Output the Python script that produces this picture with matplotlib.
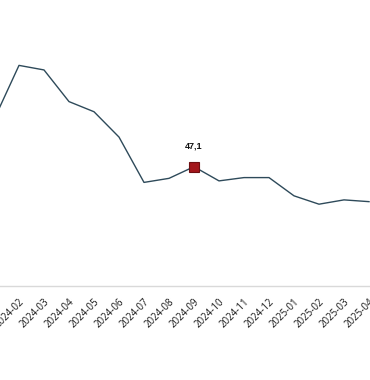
import matplotlib
matplotlib.use("Agg")
import matplotlib.pyplot as plt
import matplotlib.transforms as mtransforms

months = ["2024-01", "2024-02", "2024-03", "2024-04", "2024-05", "2024-06",
          "2024-07", "2024-08", "2024-09", "2024-10", "2024-11", "2024-12",
          "2025-01", "2025-02", "2025-03", "2025-04"]
values = [65.7, 87.1, 85.3, 72.8, 68.8, 58.8, 40.9, 42.5, 47.1, 41.5,
          42.8, 42.8, 35.6, 32.3, 34.0, 33.3]
highlight_month = "2024-09"
highlight_label = "47,1"

plt.rcParams['font.family'] = ['Open Sans', 'DejaVu Sans']

W, H = 370, 380
fig = plt.figure(figsize=(W / 100, H / 100), dpi=100)
bottom_px = 286
ax = fig.add_axes([0, (H - bottom_px) / H, 1, bottom_px / H])

x = list(range(len(months)))
ax.plot(x, values, color="#2E4A5A", linewidth=1.0, zorder=2)
hi = months.index(highlight_month)
ax.plot([hi], [values[hi]], marker="s", markersize=7.4, color="#A3161B",
        markeredgecolor="#6E0F12", markeredgewidth=0.8, zorder=3)
ax.annotate(highlight_label, (hi, values[hi]), xytext=(0, 12),
            textcoords="offset points", ha="center", va="bottom",
            fontsize=6.5, fontweight="bold", color="#111111",
            family=["Liberation Sans", "DejaVu Sans"])

ax.set_xticks(x)
ax.set_xticklabels(months, rotation=45, ha="right", va="center",
                   rotation_mode="anchor", fontsize=7, color="#1a1a1a")
ax.tick_params(axis="x", length=0, pad=9)
ax.set_yticks([])
offset = mtransforms.ScaledTranslation(4 / 100, -2 / 100, fig.dpi_scale_trans)
for lbl in ax.get_xticklabels():
    lbl.set_transform(lbl.get_transform() + offset)

step = 25.0
x0 = 6 / step
ax.set_xlim(x0, x0 + W / step)
scale = (286 - 166.7) / 47.1
ax.set_ylim(0, bottom_px / scale)

for s in ["top", "left", "right"]:
    ax.spines[s].set_visible(False)
ax.spines["bottom"].set_color("#D9D9D9")
ax.spines["bottom"].set_linewidth(1.0)
ax.patch.set_visible(False)

fig.savefig("out.png", dpi=100)
